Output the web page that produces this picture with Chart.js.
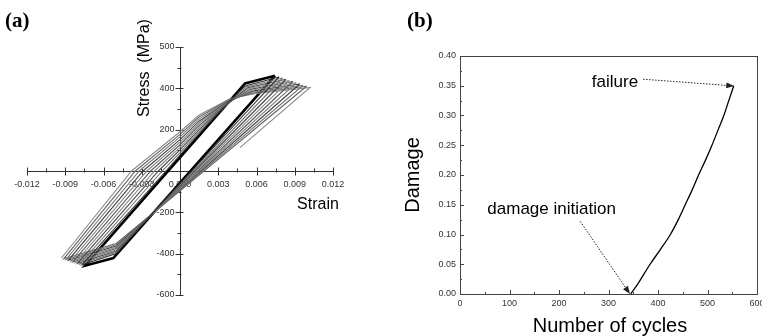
<!DOCTYPE html>
<html>
<head>
<meta charset="utf-8">
<script src="https://cdn.jsdelivr.net/npm/chart.js@4"></script>
<style>
  html, body { margin: 0; padding: 0; background: #fff; }
  body { width: 762px; height: 336px; position: relative; overflow: hidden; }
  .panel { position: absolute; top: 0; height: 336px; }
  #pa { left: 0; width: 380px; }
  #pb { left: 380px; width: 382px; }
  .lbl { position: absolute; font: bold 21px "Liberation Serif", "DejaVu Serif", serif; color: #000; }
</style>
</head>
<body>
<div class="panel" id="pa"><canvas id="chartA"></canvas></div>
<div class="panel" id="pb"><canvas id="chartB"></canvas></div>
<div class="lbl" style="left:5px; top:8px;">(a)</div>
<div class="lbl" style="left:407px; top:8px;">(b)</div>
<script>
// ---- panel (a) : hysteresis loops ----
const xTicksA      = [-0.012, -0.009, -0.006, -0.003, 0, 0.003, 0.006, 0.009, 0.012];
const xTickLabelsA = ['-0.012', '-0.009', '-0.006', '-0.003', '0.000', '0.003', '0.006', '0.009', '0.012'];
const yTicksA      = [-600, -400, -200, 200, 400, 600];
const yTickLabelsA = ['-600', '-400', '-200', '200', '400', '500'];

// thick loop (black)
const thickStrain = [0.00745, -0.00523, -0.00745, 0.0051, 0.00745];
const thickStress = [461, -421, -458, 424, 461];

// gray loops : tip, unloading, lower knee, min tip, reloading, upper knee, tip
const loopStrain = [
  [0.00777, 0.00092, -0.00260, -0.0050, -0.00768, -0.0011, 0, 0.0015, 0.0031, 0.0051, 0.00777],
  [0.00804, 0.00104, -0.00266, -0.0050, -0.00786, -0.0014, 0, 0.0015, 0.0032, 0.0052, 0.00804],
  [0.00831, 0.00116, -0.00274, -0.0050, -0.00804, -0.0017, 0, 0.0015, 0.0033, 0.0053, 0.00831],
  [0.00858, 0.00128, -0.00282, -0.0050, -0.00822, -0.0020, 0, 0.0015, 0.0034, 0.0054, 0.00858],
  [0.00885, 0.00140, -0.00290, -0.0050, -0.00840, -0.0023, 0, 0.0015, 0.0035, 0.0055, 0.00885],
  [0.00912, 0.00152, -0.00298, -0.0050, -0.00858, -0.0026, 0, 0.0015, 0.0036, 0.0056, 0.00912],
  [0.00939, 0.00164, -0.00306, -0.0050, -0.00876, -0.0029, 0, 0.0015, 0.0037, 0.0057, 0.00939],
  [0.00966, 0.00176, -0.00314, -0.0050, -0.00894, -0.0032, 0, 0.0015, 0.0038, 0.0058, 0.00966],
  [0.00993, 0.00188, -0.00322, -0.0050, -0.00912, -0.0035, 0, 0.0015, 0.0039, 0.0059, 0.00993],
  [-0.0093, -0.0038, 0, 0.0015, 0.0040, 0.0060, 0.0102, 0.0047]
];
const loopStress = [
  [455, 0, -234, -399, -454, 0, 77, 181, 287, 411, 455],
  [450, 0, -238, -393, -451, 0, 89, 190, 295, 407, 450],
  [444, 0, -242, -387, -447, 0, 102, 200, 303, 403, 444],
  [438, 0, -246, -381, -443, 0, 114, 210, 311, 399, 438],
  [433, 0, -250, -375, -440, 0, 127, 220, 319, 395, 433],
  [427, 0, -253, -369, -436, 0, 140, 231, 327, 391, 427],
  [421, 0, -255, -363, -432, 0, 152, 241, 334, 387, 421],
  [415, 0, -258, -357, -428, 0, 165, 251, 341, 383, 415],
  [410, 0, -260, -351, -425, 0, 177, 261, 347, 379, 410],
  [-421, 0, 190, 271, 352, 375, 404, 113]
];
const loopColors = ['#333', '#777', '#4a4a4a', '#8a8a8a', '#5a5a5a', '#858585', '#444', '#7c7c7c', '#666', '#8c8c8c'];

// ---- panel (b) : damage evolution ----
const cycles = [345, 360, 384, 405, 425, 441, 455, 469, 482, 496, 509, 521, 533, 543, 553];
const damage = [0, 0.018, 0.05, 0.075, 0.10, 0.125, 0.15, 0.175, 0.20, 0.225, 0.25, 0.275, 0.30, 0.325, 0.35];
const xTicksB = [0, 100, 200, 300, 400, 500, 600];
const yTicksB = [0, 0.05, 0.10, 0.15, 0.20, 0.25, 0.30, 0.35, 0.40];
const failureArrow    = [370, 0.361, 548, 0.350];
const initiationArrow = [243, 0.122, 340, 0.004];

const FONT = '"Liberation Sans", Arial, sans-serif';

function toPts(xs, ys) { return xs.map((v, i) => ({ x: v, y: ys[i] })); }

// ── axes for (a) : crossed at the origin ─────────────────────
const crossAxes = {
  id: 'crossAxes',
  beforeDatasetsDraw(chart) {
    const { ctx, scales: { x, y } } = chart;
    const x0 = Math.round(x.getPixelForValue(0)) + 0.5;
    const y0 = Math.round(y.getPixelForValue(0)) + 0.5;
    ctx.save();
    ctx.strokeStyle = '#333';
    ctx.lineWidth = 1;
    ctx.beginPath();
    ctx.moveTo(x.getPixelForValue(-0.012), y0);
    ctx.lineTo(x.getPixelForValue(0.012), y0);
    ctx.moveTo(x0, y.getPixelForValue(600));
    ctx.lineTo(x0, y.getPixelForValue(-600));
    // major + minor ticks
    for (let i = 0; i < xTicksA.length; i++) {
      const px = Math.round(x.getPixelForValue(xTicksA[i])) + 0.5;
      ctx.moveTo(px, y0 - 4); ctx.lineTo(px, y0 + 4);
      if (i < xTicksA.length - 1) {
        const pm = Math.round(x.getPixelForValue((xTicksA[i] + xTicksA[i + 1]) / 2)) + 0.5;
        ctx.moveTo(pm, y0 - 3); ctx.lineTo(pm, y0 + 1);
      }
    }
    for (let v = -600; v <= 600; v += 100) {
      const py = Math.round(y.getPixelForValue(v)) + 0.5;
      if (v % 200 === 0) { ctx.moveTo(x0 - 5, py); ctx.lineTo(x0 + 3, py); }
      else { ctx.moveTo(x0 - 3, py); ctx.lineTo(x0 + 1, py); }
    }
    ctx.stroke();

    ctx.fillStyle = '#333';
    ctx.font = '9px ' + FONT;
    ctx.textAlign = 'center';
    ctx.textBaseline = 'middle';
    xTicksA.forEach((v, i) => ctx.fillText(xTickLabelsA[i], x.getPixelForValue(v), y0 + 13));
    ctx.textAlign = 'right';
    yTicksA.forEach((v, i) => ctx.fillText(yTickLabelsA[i], x0 - 6, y.getPixelForValue(v)));

    ctx.fillStyle = '#000';
    ctx.font = '16px ' + FONT;
    ctx.textAlign = 'center';
    ctx.fillText('Strain', 318, 205);
    ctx.translate(145, 68);
    ctx.rotate(-Math.PI / 2);
    ctx.fillText('Stress  (MPa)', 0, 0);
    ctx.restore();
  }
};

const datasetsA = loopStrain.map((xs, i) => ({
  data: toPts(xs, loopStress[i]),
  borderColor: loopColors[i],
  borderWidth: 1.1
}));
datasetsA.push({ data: toPts(thickStrain, thickStress), borderColor: '#000', borderWidth: 2.6 });
datasetsA.forEach(ds => Object.assign(ds, { showLine: true, pointRadius: 0, tension: 0, fill: false }));

new Chart(document.getElementById('chartA'), {
  type: 'scatter',
  data: { datasets: datasetsA },
  options: {
    responsive: true,
    maintainAspectRatio: false,
    animation: false,
    events: [],
    layout: { padding: { left: 27, right: 47, top: 47, bottom: 41 } },
    plugins: { legend: { display: false }, tooltip: { enabled: false } },
    scales: {
      x: { type: 'linear', min: -0.012, max: 0.012, display: false },
      y: { type: 'linear', min: -600, max: 600, display: false }
    }
  },
  plugins: [crossAxes]
});

// ── frame, ticks and notes for (b) ───────────────────────────
function dottedArrow(ctx, x1, y1, x2, y2) {
  ctx.save();
  ctx.strokeStyle = '#222';
  ctx.fillStyle = '#222';
  ctx.lineWidth = 1;
  ctx.setLineDash([1.5, 1.5]);
  ctx.beginPath(); ctx.moveTo(x1, y1); ctx.lineTo(x2, y2); ctx.stroke();
  ctx.setLineDash([]);
  const a = Math.atan2(y2 - y1, x2 - x1);
  ctx.beginPath();
  ctx.moveTo(x2 + 3 * Math.cos(a), y2 + 3 * Math.sin(a));
  ctx.lineTo(x2 - 5 * Math.cos(a) + 3 * Math.sin(a), y2 - 5 * Math.sin(a) - 3 * Math.cos(a));
  ctx.lineTo(x2 - 5 * Math.cos(a) - 3 * Math.sin(a), y2 - 5 * Math.sin(a) + 3 * Math.cos(a));
  ctx.closePath(); ctx.fill();
  ctx.restore();
}

const frameB = {
  id: 'frameB',
  beforeDatasetsDraw(chart) {
    const { ctx, chartArea: a, scales: { x, y } } = chart;
    ctx.save();
    ctx.strokeStyle = '#444';
    ctx.lineWidth = 1;
    ctx.strokeRect(Math.round(a.left) + 0.5, Math.round(a.top) + 0.5,
                   Math.round(a.right - a.left), Math.round(a.bottom - a.top));
    ctx.beginPath();
    for (let v = 0; v <= 600; v += 50) {
      const px = Math.round(x.getPixelForValue(v)) + 0.5;
      const len = v % 100 === 0 ? 4 : 2;
      ctx.moveTo(px, a.bottom); ctx.lineTo(px, a.bottom - len);
    }
    for (let k = 0; k <= 16; k++) {
      const py = Math.round(y.getPixelForValue(k * 0.025)) + 0.5;
      const len = k % 2 === 0 ? 4 : 2;
      ctx.moveTo(a.left, py); ctx.lineTo(a.left + len, py);
    }
    ctx.stroke();

    ctx.fillStyle = '#333';
    ctx.font = '9px ' + FONT;
    ctx.textAlign = 'center';
    ctx.textBaseline = 'middle';
    xTicksB.forEach(v => ctx.fillText(String(v), x.getPixelForValue(v), a.bottom + 10));
    ctx.textAlign = 'right';
    yTicksB.forEach(v => ctx.fillText(v.toFixed(2), a.left - 4, y.getPixelForValue(v)));

    ctx.fillStyle = '#000';
    ctx.font = '20px ' + FONT;
    ctx.textAlign = 'center';
    ctx.fillText('Number of cycles', 230, 326);
    ctx.save();
    ctx.translate(33, 175);
    ctx.rotate(-Math.PI / 2);
    ctx.fillText('Damage', 0, 0);
    ctx.restore();

    ctx.font = '17px ' + FONT;
    ctx.fillText('failure', x.getPixelForValue(313), y.getPixelForValue(0.356));
    ctx.fillText('damage initiation', x.getPixelForValue(185), y.getPixelForValue(0.1425));
    ctx.restore();

    dottedArrow(ctx, x.getPixelForValue(failureArrow[0]), y.getPixelForValue(failureArrow[1]),
                x.getPixelForValue(failureArrow[2]), y.getPixelForValue(failureArrow[3]));
    dottedArrow(ctx, x.getPixelForValue(initiationArrow[0]), y.getPixelForValue(initiationArrow[1]),
                x.getPixelForValue(initiationArrow[2]), y.getPixelForValue(initiationArrow[3]));
  }
};

new Chart(document.getElementById('chartB'), {
  type: 'scatter',
  data: {
    datasets: [{
      data: toPts(cycles, damage),
      showLine: true,
      borderColor: '#000',
      borderWidth: 1.3,
      pointRadius: 0,
      cubicInterpolationMode: 'monotone',
      fill: false
    }]
  },
  options: {
    responsive: true,
    maintainAspectRatio: false,
    animation: false,
    events: [],
    layout: { padding: { left: 80, right: 5, top: 56, bottom: 42 } },
    plugins: { legend: { display: false }, tooltip: { enabled: false } },
    scales: {
      x: { type: 'linear', min: 0, max: 600, display: false },
      y: { type: 'linear', min: 0, max: 0.4, display: false }
    }
  },
  plugins: [frameB]
});
</script>
</body>
</html>
